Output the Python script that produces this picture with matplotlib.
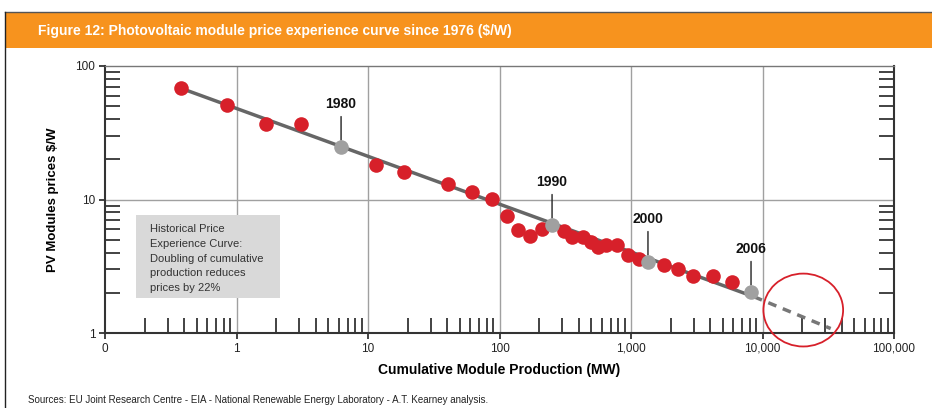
import numpy as np
import matplotlib.pyplot as plt
from matplotlib.patches import Rectangle, Ellipse
from matplotlib.ticker import FixedLocator, LogLocator, NullFormatter

plt.rcParams['font.family'] = ['Liberation Sans Narrow', 'Liberation Sans', 'DejaVu Sans']

# data
red_x = [0.38, 0.85, 1.67, 3.1, 11.5, 18.8, 40.6, 62, 88, 114, 138, 171, 210,
         309, 356, 431, 497, 561, 646, 783, 949, 1150, 1780, 2280, 2960, 4200, 5870]
red_y = [68, 51, 37, 37, 18.1, 16.1, 13.1, 11.4, 10.1, 7.5, 5.9, 5.3, 6.0,
         5.8, 5.2, 5.2, 4.8, 4.4, 4.55, 4.55, 3.85, 3.6, 3.25, 3.0, 2.65, 2.65, 2.4]
year_x = [6.24, 251, 1346, 8180]
year_y = [24.7, 6.44, 3.40, 2.03]
years = ["1980", "1990", "2000", "2006"]
trend_x = [0.38, 8600]
trend_y = [68, 1.87]
proj_x = [8600, 33000]
proj_y = [1.87, 1.08]
xticks = [0.1, 1, 10, 100, 1000, 10000, 100000]
xlabels = ["0", "1", "10", "100", "1,000", "10,000", "100,000"]
yticks = [1, 10, 100]
ylabels = ["1", "10", "100"]

W, H = 932, 408
fig = plt.figure(figsize=(W / 100, H / 100), dpi=100)

# header band
fig.patches.append(Rectangle((5 / W, 1 - 48 / H), 1, 36 / H, transform=fig.transFigure,
                             facecolor="#F7931E", edgecolor="none"))
fig.lines.append(plt.Line2D([5 / W, 1], [1 - 12 / H, 1 - 12 / H], transform=fig.transFigure,
                            color="#555555", lw=1))
fig.lines.append(plt.Line2D([5 / W, 5 / W], [0, 1 - 12 / H], transform=fig.transFigure,
                            color="#222222", lw=1))
fig.text(38 / W, 1 - 31 / H, "Figure 12: Photovoltaic module price experience curve since 1976 ($/W)",
         color="white", fontsize=10, fontweight="bold", va="center")

ax = fig.add_axes([105 / W, 75 / H, 789 / W, 267 / H])
ax.set_xscale("log")
ax.set_yscale("log")
ax.set_xlim(0.1, 100000)
ax.set_ylim(1, 100)

# grid
for gx in [1, 10, 100, 1000, 10000]:
    ax.axvline(gx, color="#A0A0A0", lw=1, zorder=0)
ax.axhline(10, color="#A0A0A0", lw=1, zorder=0)

ax.plot(trend_x, trend_y, color="#666666", lw=2.5, zorder=2)
ax.plot(proj_x, proj_y, color="#777777", lw=2.5, ls=(0, (2.5, 2)), zorder=2)
ax.plot(red_x, red_y, "o", color="#D7202A", ms=10.5, mec="none", zorder=3)
ax.plot(year_x, year_y, "o", color="#A0A0A0", ms=10.5, mec="none", zorder=4)

for x, y, t in zip(year_x, year_y, years):
    ax.annotate(t, xy=(x, y), xytext=(0, 31), textcoords="offset points",
                ha="center", va="center", fontsize=10, fontweight="bold", color="#111111",
                arrowprops=dict(arrowstyle="-", color="#222222", lw=1, shrinkA=2, shrinkB=5))

# info box
ax.add_patch(Rectangle((0.039, 0.131), 0.183, 0.311, transform=ax.transAxes,
                       facecolor="#D9D9D9", edgecolor="none", zorder=1))
ax.text(0.057, 0.408, "Historical Price\nExperience Curve:\nDoubling of cumulative\nproduction reduces\nprices by 22%",
        transform=ax.transAxes, fontsize=8, color="#333333", va="top", ha="left",
        linespacing=1.6, zorder=2)

# highlight circle
ax.add_patch(Ellipse((0.885, 0.086), 0.101, 0.273, transform=ax.transAxes,
                     facecolor="none", edgecolor="#D7202A", lw=1.3, clip_on=False, zorder=5))

ax.xaxis.set_major_locator(FixedLocator(xticks))
ax.set_xticklabels(xlabels)
ax.yaxis.set_major_locator(FixedLocator(yticks))
ax.set_yticklabels(ylabels)
ax.xaxis.set_minor_locator(LogLocator(base=10, subs=np.arange(2, 10)))
ax.yaxis.set_minor_locator(LogLocator(base=10, subs=np.arange(2, 10)))
ax.xaxis.set_minor_formatter(NullFormatter())
ax.yaxis.set_minor_formatter(NullFormatter())
ax.tick_params(which="major", direction="out", length=4, width=1.2, colors="#222222",
               labelsize=8.5, pad=3)
ax.tick_params(which="minor", direction="in", length=11, width=1.2, color="#222222",
               right=True)
ax.tick_params(axis="y", which="major", right=False)

for s in ["left", "bottom", "right"]:
    ax.spines[s].set_color("#333333")
    ax.spines[s].set_linewidth(1.5)
ax.spines["top"].set_color("#777777")
ax.spines["top"].set_linewidth(1)

ax.set_xlabel("Cumulative Module Production (MW)", fontsize=10, fontweight="bold", labelpad=6)
ax.set_ylabel("PV Modules prices $/W", fontsize=9.5, fontweight="bold", labelpad=22)
ax.yaxis.set_label_coords(-0.058, 0.5)

fig.text(28 / W, 1 - 400 / H,
         "Sources: EU Joint Research Centre - EIA - National Renewable Energy Laboratory - A.T. Kearney analysis.",
         fontsize=7, color="#222222", va="center")

fig.savefig("out.png", dpi=100)
